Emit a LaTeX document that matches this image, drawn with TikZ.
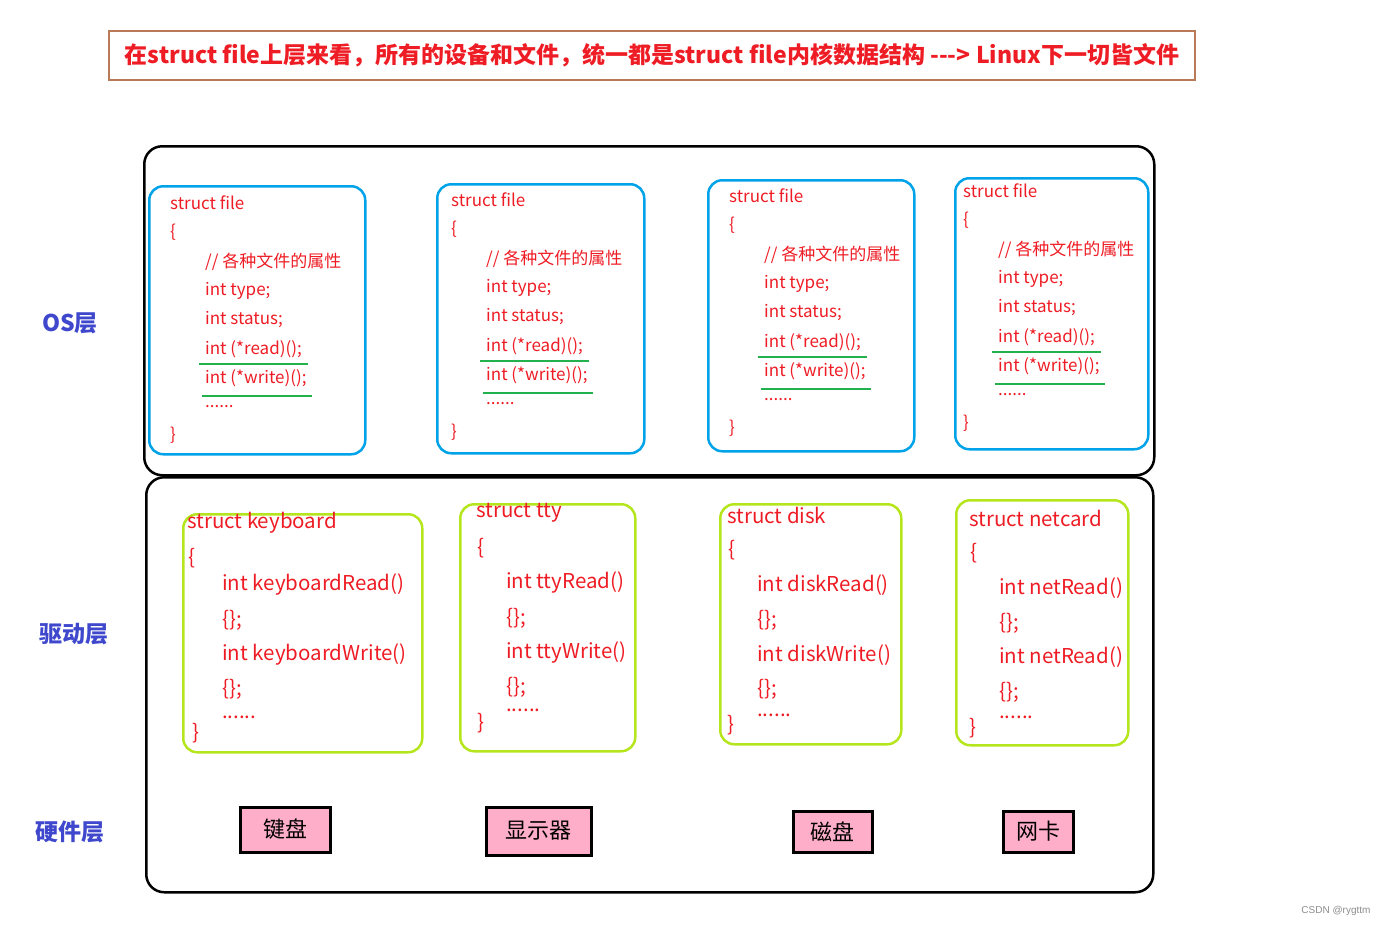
\documentclass[tikz,border=0pt]{standalone}
\usepackage{fontspec}
\setmainfont{Noto Sans CJK SC}
\newfontfamily\wmfont{Liberation Sans}
\usetikzlibrary{positioning}
\definecolor{codered}{HTML}{EE1C24}
\definecolor{fileblue}{HTML}{00A2E8}
\definecolor{drvgreen}{HTML}{B5E61D}
\definecolor{hlgreen}{HTML}{22B14C}
\definecolor{hwpink}{HTML}{FFAEC9}
\definecolor{titlebrown}{HTML}{B97A57}
\definecolor{layerblue}{HTML}{3F48CC}

\begin{document}
\begin{tikzpicture}[x=1pt, y=-1pt,
    outerframe/.style={draw=black, line width=2.5pt, rounded corners=18pt, anchor=north west, inner sep=0},
    filebox/.style={draw=fileblue, line width=2.5pt, rounded corners=14pt, anchor=north west, inner sep=0},
    drvbox/.style={draw=drvgreen, line width=2.5pt, rounded corners=14pt, anchor=north west, inner sep=0},
    hwbox/.style={draw=black, line width=3pt, fill=hwpink, inner sep=0, font=\fontsize{22}{22}\selectfont},
    codeline/.style={text=codered, anchor=west, inner sep=0, font=\fontsize{17}{17}\selectfont},
    bigline/.style={codeline, font=\fontsize{20.5}{20.5}\selectfont},
    hiline/.style={draw=hlgreen, line width=2.5pt},
    layer/.style={text=layerblue, inner sep=0, font=\bfseries\fontsize{23}{23}\selectfont}]
    \useasboundingbox (0,0) rectangle (1390,927);

    % title
    \node[draw=titlebrown, line width=2.5pt, minimum width=1086, minimum height=49, inner sep=0,
          text=codered, font=\bfseries\fontsize{23}{23}\selectfont] (title) at (652,55.5)
          {在struct file上层来看，所有的设备和文件，统一都是struct file内核数据结构 -{}-{}-> Linux下一切皆文件};

    % layer names
    \node[layer] (oslayer) at (70,323) {OS层};
    \node[layer] (drvlayer) at (74,634) {驱动层};
    \node[layer] (hwlayer) at (70,832) {硬件层};

    % outer frames
    \node[outerframe, minimum width=1010, minimum height=329] (osframe) at (143,145) {};
    \node[outerframe, minimum width=1007, minimum height=415] (drvframe) at (145,476) {};

    % struct file boxes
    \foreach \i/\bx/\by/\bw/\bh/\tx/\ty in {1/148/185/216/268/170/203, 2/436/183/207/269/451/200,
                                          3/707/179/206/271/729/196, 4/954/177/193/271/963/191} {
        \node[filebox, minimum width=\bw, minimum height=\bh] (file\i) at (\bx,\by) {};
        \node[codeline] (file\i-name) at (\tx,\ty) {struct file};
        \node[codeline] (file\i-open) at (\tx,\ty+29) {\{};
        \node[codeline] (file\i-note) at (\tx+35,\ty+59) {// 各种文件的属性};
        \node[codeline] (file\i-type) at (\tx+35,\ty+88) {int type;};
        \node[codeline] (file\i-status) at (\tx+35,\ty+117) {int status;};
        \node[codeline] (file\i-read) at (\tx+35,\ty+146) {int (*read)();};
        \node[codeline] (file\i-write) at (\tx+35,\ty+175) {int (*write)();};
        \node[codeline] (file\i-more) at (\tx+35,\ty+204) {......};
        \node[codeline] (file\i-close) at (\tx,\ty+232) {\}};
        \draw[hiline] (\tx+29,\ty+161) -- (\tx+138,\ty+161);
        \draw[hiline] (\tx+32,\ty+193) -- (\tx+142,\ty+193);
    }

    % driver structs
    \node[drvbox, minimum width=239, minimum height=238] (kbd) at (182,513) {};
    \node[bigline] (kbd-name) at (187,523) {struct keyboard};
    \node[bigline] (kbd-open) at (188,558) {\{};
    \node[bigline] (kbd-read) at (222,585) {int keyboardRead()};
    \node[bigline] (kbd-body1) at (222,620) {\{\};};
    \node[bigline] (kbd-write) at (222,655) {int keyboardWrite()};
    \node[bigline] (kbd-body2) at (222,689) {\{\};};
    \node[bigline] (kbd-more) at (222,717) {......};
    \node[bigline] (kbd-close) at (192,733) {\}};

    \node[drvbox, minimum width=175, minimum height=247] (tty) at (459,503) {};
    \node[bigline] (tty-name) at (476,513) {struct tty};
    \node[bigline] (tty-open) at (477,548) {\{};
    \node[bigline] (tty-read) at (506,583) {int ttyRead()};
    \node[bigline] (tty-body1) at (506,618) {\{\};};
    \node[bigline] (tty-write) at (506,653) {int ttyWrite()};
    \node[bigline] (tty-body2) at (506,687) {\{\};};
    \node[bigline] (tty-more) at (506,710) {......};
    \node[bigline] (tty-close) at (477,723) {\}};

    \node[drvbox, minimum width=181, minimum height=240] (disk) at (719,503) {};
    \node[bigline] (disk-name) at (727,515) {struct disk};
    \node[bigline] (disk-open) at (728,550) {\{};
    \node[bigline] (disk-read) at (757,585) {int diskRead()};
    \node[bigline] (disk-body1) at (757,620) {\{\};};
    \node[bigline] (disk-write) at (757,655) {int diskWrite()};
    \node[bigline] (disk-body2) at (757,689) {\{\};};
    \node[bigline] (disk-more) at (757,715) {......};
    \node[bigline] (disk-close) at (727,725) {\}};

    \node[drvbox, minimum width=172, minimum height=245] (net) at (955,499) {};
    \node[bigline] (net-name) at (969,518) {struct netcard};
    \node[bigline] (net-open) at (970,553) {\{};
    \node[bigline] (net-read) at (999,588) {int netRead()};
    \node[bigline] (net-body1) at (999,623) {\{\};};
    \node[bigline] (net-write) at (999,657) {int netRead()};
    \node[bigline] (net-body2) at (999,692) {\{\};};
    \node[bigline] (net-more) at (999,717) {......};
    \node[bigline] (net-close) at (969,728) {\}};

    % hardware
    \node[hwbox, minimum width=90, minimum height=45] (keyboard) at (285,829.5) {键盘};
    \node[hwbox, minimum width=105, minimum height=48] (screen) at (538.5,831) {显示器};
    \node[hwbox, minimum width=79, minimum height=41] (harddisk) at (832.5,831.5) {磁盘};
    \node[hwbox, minimum width=70, minimum height=41] (netcard) at (1038,831.5) {网卡};

    \node[text=black!45, inner sep=0, font=\wmfont\fontsize{10}{10}\selectfont] (mark) at (1336,911) {CSDN @rygttm};
\end{tikzpicture}
\end{document}
